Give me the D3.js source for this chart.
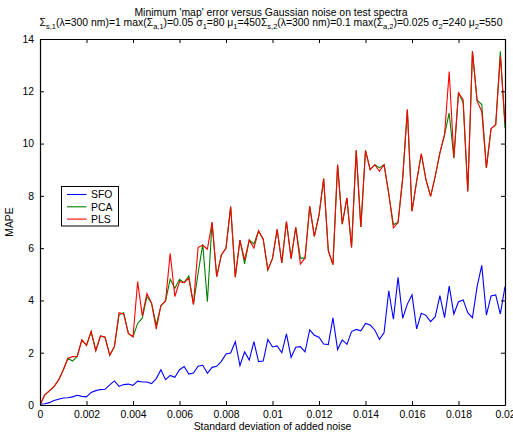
<!DOCTYPE html>
<html>
<head>
<meta charset="utf-8">
<script src="https://cdn.jsdelivr.net/npm/d3@7"></script>
<style>
  html, body { margin: 0; padding: 0; background: #fff; }
  svg { display: block; font-family: "Liberation Sans", Arial, sans-serif; }
</style>
</head>
<body>
<svg id="chart" width="513" height="436"></svg>
<script>
// Noise levels: 0 to 0.02 in steps of 0.0002
const noiseStep = 0.0002;
const nPoints = 101;

// MAPE per method
const sfo = [
  0.03, 0.05, 0.09, 0.17, 0.22, 0.27, 0.28, 0.31, 0.37, 0.33,
  0.31, 0.48, 0.55, 0.59, 0.60, 0.77, 0.92, 0.71, 0.78, 0.80,
  0.75, 0.91, 0.88, 0.88, 0.82, 1.01, 1.35, 0.97, 1.13, 1.06,
  1.35, 1.47, 1.18, 1.22, 1.48, 1.52, 1.21, 1.44, 1.48, 1.67,
  1.95, 1.99, 2.42, 1.51, 2.03, 1.72, 2.42, 1.66, 1.68, 2.51,
  2.22, 2.26, 2.00, 2.72, 1.82, 2.21, 2.23, 2.03, 2.87, 2.67,
  2.59, 2.33, 2.31, 3.33, 2.12, 2.49, 2.32, 2.81, 2.89, 2.84,
  3.12, 3.06, 2.87, 2.51, 2.77, 4.37, 3.28, 4.88, 3.32, 3.86,
  4.21, 2.91, 3.51, 3.43, 3.19, 3.38, 4.18, 3.34, 4.55, 3.48,
  3.95, 4.02, 3.53, 3.34, 4.53, 5.34, 3.44, 4.17, 4.21, 3.48,
  4.53
];

const pca = [
  0.00, 0.38, 0.54, 0.70, 0.96, 1.34, 1.79, 1.68, 1.86, 2.49,
  2.28, 2.81, 2.08, 2.64, 2.59, 1.90, 2.23, 3.45, 3.53, 2.74,
  2.61, 3.12, 3.32, 4.15, 3.89, 3.06, 3.80, 3.98, 4.81, 4.46,
  4.81, 4.68, 4.94, 3.85, 5.04, 6.15, 3.95, 6.99, 4.91, 5.74,
  6.00, 7.59, 4.89, 6.31, 5.40, 6.31, 6.16, 6.66, 6.34, 5.17,
  5.61, 6.72, 5.43, 7.02, 5.60, 6.80, 5.62, 5.62, 7.60, 6.45,
  7.26, 8.66, 5.90, 5.37, 9.19, 6.92, 7.92, 6.03, 9.74, 6.81,
  9.74, 9.00, 9.19, 9.07, 9.19, 8.08, 6.90, 6.98, 8.68, 11.30,
  7.41, 8.56, 9.61, 8.62, 7.98, 8.75, 9.64, 10.34, 11.17, 9.44,
  11.96, 11.55, 8.17, 13.53, 11.66, 11.49, 9.07, 10.57, 10.72, 13.53,
  10.60
];

const pls = [
  0.00, 0.38, 0.54, 0.70, 0.96, 1.34, 1.79, 1.85, 1.86, 2.49,
  2.28, 2.81, 2.08, 2.64, 2.59, 1.90, 2.23, 3.53, 3.48, 2.74,
  2.61, 4.72, 3.41, 4.27, 3.89, 2.90, 3.80, 3.98, 5.80, 4.15,
  4.72, 4.68, 4.85, 3.85, 6.03, 6.11, 5.96, 6.99, 4.91, 5.74,
  6.00, 7.59, 4.89, 6.31, 5.55, 6.31, 6.00, 6.66, 6.34, 5.17,
  5.61, 6.72, 5.43, 7.02, 5.60, 6.80, 5.39, 5.62, 7.60, 6.45,
  7.26, 8.66, 5.90, 5.37, 9.19, 6.92, 7.92, 6.03, 9.74, 6.81,
  9.74, 9.00, 9.19, 8.94, 9.19, 8.08, 6.77, 6.98, 8.68, 11.30,
  7.41, 8.56, 9.61, 8.62, 7.98, 8.75, 9.64, 10.34, 12.76, 9.47,
  11.94, 11.68, 8.17, 13.53, 11.62, 11.23, 9.07, 10.57, 10.72, 13.34,
  10.80
];

const seriesNames = ["SFO", "PCA", "PLS"];
const seriesColors = ["#0000ff", "#008000", "#ff0000"];

const xTickLabels = ["0", "0.002", "0.004", "0.006", "0.008", "0.01",
                     "0.012", "0.014", "0.016", "0.018", "0.02"];
const yTickLabels = ["0", "2", "4", "6", "8", "10", "12", "14"];

const titleLine1 = "Minimum 'map' error versus Gaussian noise on test spectra";
const xLabel = "Standard deviation of added noise";
const yLabel = "MAPE";

// ---------------------------------------------------------------
const svg = d3.select("#chart");
const plot = { left: 40, right: 505, top: 39, bottom: 405 };
const fontSize = 10.4;

const noise = d3.range(nPoints).map(i => i * noiseStep);
const x = d3.scaleLinear().domain([0, 0.02]).range([plot.left, plot.right]);
const y = d3.scaleLinear().domain([0, 14]).range([plot.bottom, plot.top]);

const xTicks = xTickLabels.map(Number);
const yTicks = yTickLabels.map(Number);
const tickLen = 4;

// Data lines, clipped to the axes box
svg.append("clipPath").attr("id", "plotClip")
  .append("rect")
  .attr("x", plot.left).attr("y", plot.top)
  .attr("width", plot.right - plot.left).attr("height", plot.bottom - plot.top);

const line = d3.line().x((d, i) => x(noise[i])).y(d => y(d));
const allSeries = [sfo, pca, pls];
svg.append("g").attr("clip-path", "url(#plotClip)")
  .selectAll("path")
  .data(allSeries)
  .join("path")
  .attr("d", d => line(d))
  .attr("fill", "none")
  .attr("stroke", (d, i) => seriesColors[i])
  .attr("stroke-width", 1.1)
  .attr("stroke-linejoin", "miter");

// Axes: bottom/left carry labels, top/right mirror the ticks (box style)
const fmtX = (d, i) => xTickLabels[i];
const fmtY = (d, i) => yTickLabels[i];

const gBottom = svg.append("g").attr("transform", `translate(0,${plot.bottom})`)
  .call(d3.axisBottom(x).tickValues(xTicks).tickFormat(fmtX)
    .tickSizeInner(-tickLen).tickSizeOuter(0).tickPadding(6));
const gTop = svg.append("g").attr("transform", `translate(0,${plot.top})`)
  .call(d3.axisTop(x).tickValues(xTicks).tickFormat("")
    .tickSizeInner(-tickLen).tickSizeOuter(0));
const gLeft = svg.append("g").attr("transform", `translate(${plot.left},0)`)
  .call(d3.axisLeft(y).tickValues(yTicks).tickFormat(fmtY)
    .tickSizeInner(-tickLen).tickSizeOuter(0).tickPadding(6));
const gRight = svg.append("g").attr("transform", `translate(${plot.right},0)`)
  .call(d3.axisRight(y).tickValues(yTicks).tickFormat("")
    .tickSizeInner(-tickLen).tickSizeOuter(0));

[gBottom, gTop, gLeft, gRight].forEach(g => {
  g.select(".domain").attr("stroke", "#000").attr("stroke-width", 1.2);
  g.selectAll(".tick line").attr("stroke", "#000").attr("stroke-width", 1);
  g.selectAll(".tick text").attr("fill", "#000")
    .attr("font-size", fontSize).attr("font-family", "Liberation Sans, Arial, sans-serif");
});

// Axis titles
svg.append("text")
  .attr("x", (plot.left + plot.right) / 2).attr("y", 430)
  .attr("text-anchor", "middle").attr("font-size", fontSize)
  .text(xLabel);

svg.append("text")
  .attr("transform", `translate(13,${(plot.top + plot.bottom) / 2}) rotate(-90)`)
  .attr("text-anchor", "middle").attr("font-size", fontSize)
  .text(yLabel);

// Two-line title; second line carries subscripted parameters
svg.append("text")
  .attr("x", 271).attr("y", 16)
  .attr("text-anchor", "middle").attr("font-size", fontSize)
  .text(titleLine1);

const titleLine2 = [
  ["Σ", null], ["s,1", "sub"], ["(λ=300 nm)=1 max(Σ", null], ["a,1", "sub"],
  [")=0.05 σ", null], ["1", "sub"], ["=80 μ", null], ["1", "sub"],
  ["=450Σ", null], ["s,2", "sub"], ["(λ=300 nm)=0.1 max(Σ", null], ["a,2", "sub"],
  [")=0.025 σ", null], ["2", "sub"], ["=240 μ", null], ["2", "sub"], ["=550", null]
];
const t2 = svg.append("text")
  .attr("x", 271).attr("y", 26)
  .attr("text-anchor", "middle").attr("font-size", fontSize);
titleLine2.forEach(([s, kind], i) => {
  const ts = t2.append("tspan").text(s);
  if (kind === "sub") ts.attr("font-size", 7.5).attr("dy", 3);
  else if (i > 0 && titleLine2[i - 1][1] === "sub") ts.attr("dy", -3);
});

// Legend
const legend = svg.append("g");
legend.append("rect")
  .attr("x", 61.5).attr("y", 186.5).attr("width", 57).attr("height", 39.5)
  .attr("fill", "#fff").attr("stroke", "#000").attr("stroke-width", 1);
seriesNames.forEach((name, i) => {
  const ly = 194.5 + i * 12.3;
  legend.append("line")
    .attr("x1", 67).attr("x2", 86.5).attr("y1", ly).attr("y2", ly)
    .attr("stroke", seriesColors[i]).attr("stroke-width", 1.1);
  legend.append("text")
    .attr("x", 91).attr("y", ly + 3.7)
    .attr("font-size", fontSize).text(name);
});
</script>
</body>
</html>
